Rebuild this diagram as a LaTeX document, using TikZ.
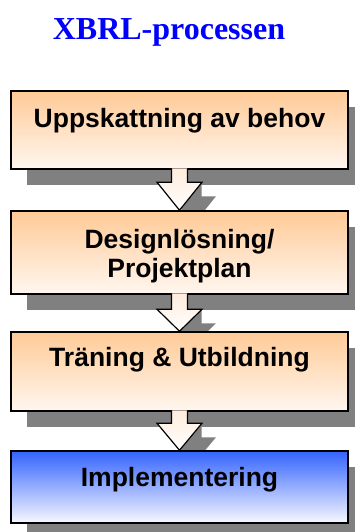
\documentclass[tikz,border=0pt]{standalone}
\usepackage{fontspec}
\setmainfont{Liberation Serif}
\setsansfont{Liberation Sans}
\usetikzlibrary{calc,shadows}
\definecolor{shgray}{RGB}{128,128,128}
\definecolor{orT}{RGB}{255,202,150}
\definecolor{orB}{RGB}{255,247,240}
\definecolor{blT}{RGB}{51,100,255}
\definecolor{blB}{RGB}{248,248,255}
\definecolor{arT}{RGB}{255,236,220}
\definecolor{titleblue}{RGB}{0,0,255}
\pgfdeclarelayer{bg}
\pgfsetlayers{bg,main}
\tikzset{
  box/.style={draw=black, line width=1.5pt, rectangle, minimum width=337pt,
    inner sep=0pt,
    drop shadow={shadow xshift=16pt, shadow yshift=-16pt, fill=shgray, opacity=1}},
  orbox/.style={box, top color=orT, bottom color=orB},
  blbox/.style={box, top color=blT, bottom color=blB},
  boxtext/.style={font=\sffamily\bfseries\fontsize{26.5}{29}\selectfont, anchor=base, align=center, inner sep=0pt},
  barrow/.style={draw=black, line width=1.2pt, top color=arT, bottom color=white, line join=miter},
  barrowsh/.style={fill=shgray, draw=none},
}
\newcommand\blockarr[3]{%
  \begin{pgfonlayer}{bg}
  \fill[barrowsh] ($(#1.south)+(6,12.5)$) -- ($(#2.north)+(6,14-#3)$) -- ($(#2.north)+(-8.5,14-#3)$) -- ($(#2.north)+(14,14)$) -- ($(#2.north)+(36.5,14-#3)$) -- ($(#2.north)+(22,14-#3)$) -- ($(#1.south)+(22,12.5)$) -- cycle;
  \end{pgfonlayer}
  \path[barrow] ($(#1.south)+(-8,-1.5)$) -- ($(#2.north)+(-8,-#3)$) -- ($(#2.north)+(-22.5,-#3)$) -- (#2.north) -- ($(#2.north)+(22.5,-#3)$) -- ($(#2.north)+(8,-#3)$) -- ($(#1.south)+(8,-1.5)$);
}
\begin{document}
\begin{tikzpicture}[x=1pt,y=-1pt]
\useasboundingbox (0,0) rectangle (355,532);
\node[font=\rmfamily\bfseries\fontsize{32}{36}\selectfont, text=titleblue, anchor=base, inner sep=0pt] (title) at (169,39.5) {XBRL-processen};
\node[orbox, minimum height=78pt] (b1) at (179.5,130) {};
\node[orbox, minimum height=83pt] (b2) at (179.5,252.5) {};
\node[orbox, minimum height=79pt] (b3) at (179.5,371.5) {};
\node[blbox, minimum height=72pt] (b4) at (179.5,487) {};
\node[boxtext] (t1) at (179.5,127) {Uppskattning av behov};
\node[boxtext] (t2) at (179.5,277) {Designlösning/\\Projektplan};
\node[boxtext] (t3) at (179.5,366.5) {Träning \& Utbildning};
\node[boxtext] (t4) at (179.5,486.5) {Implementering};
\blockarr{b1}{b2}{28}
\blockarr{b2}{b3}{22}
\blockarr{b3}{b4}{27}
\end{tikzpicture}
\end{document}
